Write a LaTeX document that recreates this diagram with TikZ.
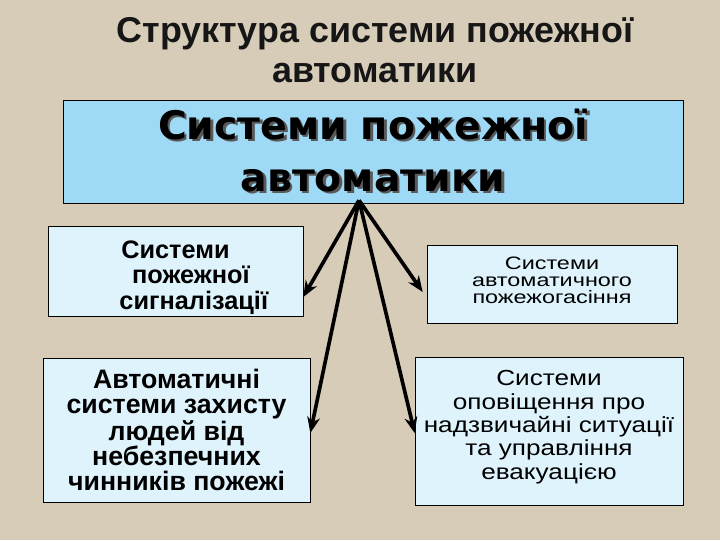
\documentclass[tikz,border=0pt]{standalone}
\usepackage{fontspec}
\setmainfont{Liberation Sans}
\newfontfamily\headfont{DejaVu Sans}
\newfontfamily\wideface[FakeStretch=1.2]{Liberation Sans}
\newfontfamily\widerface[FakeStretch=1.3]{Liberation Sans}
\usetikzlibrary{arrows.meta,positioning,calc}
\definecolor{paper}{RGB}{214,204,184}
\definecolor{skyfill}{RGB}{158,218,246}
\definecolor{palefill}{RGB}{222,243,252}
\definecolor{inkgray}{RGB}{22,22,22}
\newcommand\shadowline[1]{\makebox[0pt][l]{\raisebox{-1.8pt}{\hspace{1.8pt}\textcolor{gray!70!black}{#1}}}#1}
\tikzset{
  mainbox/.style={draw, thin, fill=skyfill, align=center, minimum width=15.5cm, minimum height=2.575cm, inner sep=0pt},
  subbox/.style={draw, thin, fill=palefill, align=center, inner sep=0pt},
  arrow/.style={-{Stealth[length=4mm,width=3.2mm]}, line width=2.6pt, black},
  titletext/.style={font=\fontsize{25.5}{28.4}\selectfont\bfseries, text=inkgray, align=center}
}

\begin{document}
\begin{tikzpicture}[x=0.025cm, y=-0.025cm]
  \fill[paper] (0,0) rectangle (720,540);
  \useasboundingbox (0,0) rectangle (720,540);

  \node[titletext] (title) at (375,50) {Структура системи пожежної\\автоматики};

  \node[mainbox, font=\headfont\fontsize{28}{37}\selectfont\bfseries] (main) at (373,151.5) {\shadowline{Системи пожежної}\\\shadowline{автоматики}};

  \node[subbox, minimum width=6.375cm, minimum height=2.25cm, font=\fontsize{18}{17.9}\selectfont\bfseries] (signal) at (175.5,271) {\raisebox{0pt}[22pt]{Системи}\\\hspace*{22pt}пожежної\\\hspace*{26pt}сигналізації};
  \node[subbox, minimum width=6.25cm, minimum height=1.95cm, font=\widerface\fontsize{12.8}{12.2}\selectfont] (extinguish) at (552,284) {Системи\\автоматичного\\пожежогасіння\\[-6.6pt]};
  \node[subbox, minimum width=6.675cm, minimum height=3.6cm, font=\fontsize{19}{17.8}\selectfont\bfseries] (protect) at (176.5,430) {Автоматичні\\системи захисту\\людей від\\небезпечних\\чинників пожежі};
  \node[subbox, minimum width=6.7cm, minimum height=3.7cm, font=\wideface\fontsize{15.5}{16.6}\selectfont] (warning) at (549,431) {Системи\\оповіщення про\\надзвичайні ситуації\\та управління\\евакуацією\\[-8pt]};

  \coordinate (hub) at ($(main.south)+(-14,-3)$);

  \draw[arrow] (hub) -- ($(signal.east)+(0,26)$);
  \draw[arrow] (hub) -- ($(extinguish.west)+(-4,8)$);
  \draw[arrow] (hub) -- ($(protect.east)+(0,3)$);
  \draw[arrow] (hub) -- ($(warning.west)+(0,2)$);
\end{tikzpicture}
\end{document}
